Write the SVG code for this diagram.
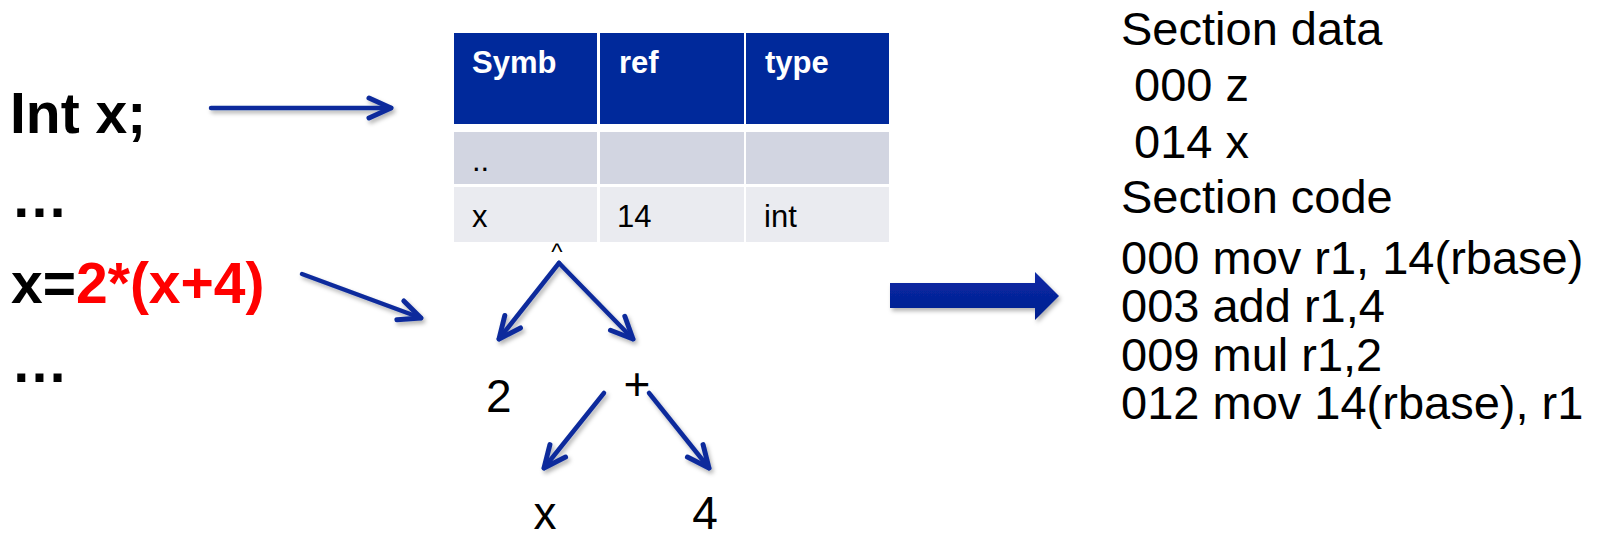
<svg xmlns="http://www.w3.org/2000/svg" width="1603" height="539" viewBox="0 0 1603 539">
  <style>
    .src { font-family: "Liberation Sans", Arial, sans-serif; font-weight: bold; font-size: 57px; fill: #000; }
    .red { fill: #FF0000; }
    .th { font-family: "Liberation Sans", Arial, sans-serif; font-weight: bold; font-size: 31px; fill: #FFFFFF; }
    .td { font-family: "Liberation Sans", Arial, sans-serif; font-size: 31px; fill: #000; }
    .tree { font-family: "Liberation Sans", Arial, sans-serif; font-size: 46px; fill: #000; }
    .code { font-family: "Liberation Sans", Arial, sans-serif; font-size: 47px; fill: #000; white-space: pre; }
    .conn { stroke: #0B2C9C; stroke-width: 4.5; fill: none; stroke-linecap: round; marker-end: url(#open); }
  </style>
  <defs>
    <marker id="open" markerUnits="userSpaceOnUse" markerWidth="34" markerHeight="34" viewBox="-28 -16 34 32" refX="0" refY="0" orient="auto">
      <path d="M -22 -10 L 0 0 L -22 10" fill="none" stroke="#0B2C9C" stroke-width="5" stroke-linecap="round" stroke-linejoin="round"/>
    </marker>
    <filter id="shadow" filterUnits="userSpaceOnUse" x="0" y="0" width="1603" height="539">
      <feDropShadow dx="2" dy="3" stdDeviation="2" flood-color="#000" flood-opacity="0.3"/>
    </filter>
    <linearGradient id="blockGrad" x1="0" y1="0" x2="0" y2="1">
      <stop offset="0" stop-color="#0A2AA6"/>
      <stop offset="1" stop-color="#021E8E"/>
    </linearGradient>
  </defs>

  <g id="source">
    <text class="src" x="10" y="133">Int x;</text>
    <text class="src" x="11" y="217">…</text>
    <text class="src" x="11" y="303">x=<tspan class="red">2*(x+4)</tspan></text>
    <text class="src" x="11" y="382">…</text>
  </g>

  <g id="symbol-table">
    <rect x="454" y="33" width="143" height="91" fill="#00299B"/>
    <rect x="600" y="33" width="144" height="91" fill="#00299B"/>
    <rect x="746" y="33" width="143" height="91" fill="#00299B"/>
    <rect x="454" y="132" width="143" height="52" fill="#D2D5E1"/>
    <rect x="600" y="132" width="144" height="52" fill="#D2D5E1"/>
    <rect x="746" y="132" width="143" height="52" fill="#D2D5E1"/>
    <rect x="454" y="187" width="143" height="55" fill="#EAEBF0"/>
    <rect x="600" y="187" width="144" height="55" fill="#EAEBF0"/>
    <rect x="746" y="187" width="143" height="55" fill="#EAEBF0"/>
    <text class="th" x="472" y="73">Symb</text>
    <text class="th" x="619" y="73">ref</text>
    <text class="th" x="765" y="73">type</text>
    <text class="td" x="472" y="171">..</text>
    <text class="td" x="472" y="227">x</text>
    <text class="td" x="617" y="227">14</text>
    <text class="td" x="764" y="227">int</text>
  </g>

  <g id="tree">
    <text class="tree" x="557" y="260" text-anchor="middle" style="font-size:24px">^</text>
    <text class="tree" x="486" y="412">2</text>
    <text class="tree" x="637" y="400" text-anchor="middle">+</text>
    <text class="tree" x="545" y="529" text-anchor="middle">x</text>
    <text class="tree" x="705" y="529" text-anchor="middle">4</text>
  </g>

  <g id="output-code">
    <text class="code" x="1121" y="45">Section data</text>
    <text class="code" x="1121" y="101"> 000 z</text>
    <text class="code" x="1121" y="158"> 014 x</text>
    <text class="code" x="1121" y="213">Section code</text>
    <text class="code" x="1121" y="274">000 mov r1, 14(rbase)</text>
    <text class="code" x="1121" y="322">003 add r1,4</text>
    <text class="code" x="1121" y="371">009 mul r1,2</text>
    <text class="code" x="1121" y="419">012 mov 14(rbase), r1</text>
  </g>

  <g id="connectors" filter="url(#shadow)">
    <line class="conn" x1="211" y1="108" x2="391" y2="108"/>
    <line class="conn" x1="302" y1="274" x2="421" y2="318"/>
    <line class="conn" x1="559" y1="263" x2="499" y2="339"/>
    <line class="conn" x1="559" y1="263" x2="633" y2="339"/>
    <line class="conn" x1="604" y1="393" x2="544" y2="468"/>
    <line class="conn" x1="649" y1="393" x2="709" y2="468"/>
    <path d="M 890 283 L 1035 283 L 1035 272 L 1059 296 L 1035 320 L 1035 308 L 890 308 Z" fill="url(#blockGrad)"/>
  </g>
</svg>
